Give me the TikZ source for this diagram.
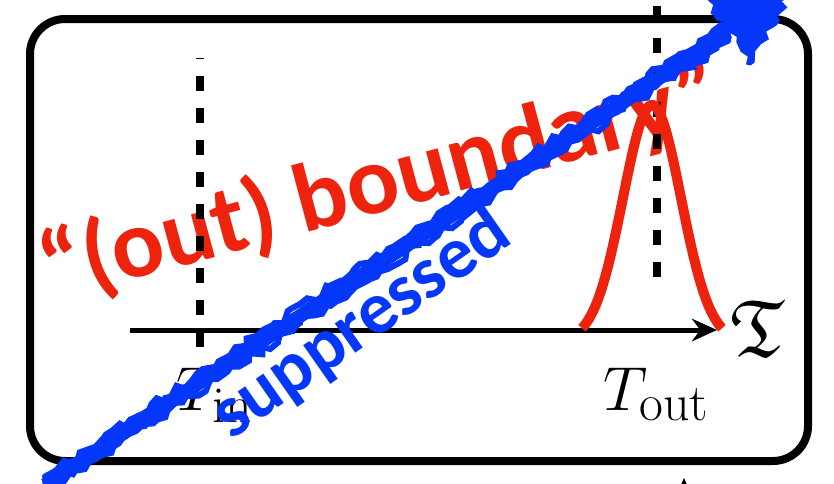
\documentclass[tikz,border=0pt]{standalone}
\usepackage{amssymb}
\usepackage{graphicx}
\usepackage{fontspec}
\usetikzlibrary{arrows.meta, calc, decorations.pathmorphing}
\newfontfamily\calfont{Carlito}
\definecolor{boundRed}{RGB}{237,35,13}
\definecolor{suppBlue}{RGB}{5,55,250}

\begin{document}
\begin{tikzpicture}[x=0.4pt, y=0.4pt,
    frame/.style={line width=3.2pt, rounded corners=14pt},
    marker/.style={line width=3.2pt, dash pattern=on 6pt off 6.8pt},
    axis/.style={line width=2pt, -{Stealth[length=10pt, width=9pt]}},
    bump/.style={line width=4pt, draw=boundRed},
    timelabel/.style={font=\fontsize{24.88}{30}\selectfont, inner sep=0pt},
    crayon/.style={draw=suppBlue, line width=2.4pt, line cap=round, decorate,
      decoration={random steps, segment length=3pt, amplitude=1.6pt}}
  ]
  \useasboundingbox (0,0) rectangle (834,483);
  \clip (0,0) rectangle (834,483);
  \pgfmathsetseed{7}

  % slanted red caption, behind the markers
  \node[rotate=15, anchor=base, text=boundRed, inner sep=0pt,
    font=\calfont\bfseries\fontsize{39}{41}\selectfont] (boundary) at (388,272) {“(out) boundary”};

  \draw[frame] (30,22) rectangle (808,464);

  \coordinate (inBot) at (200,136);
  \coordinate (inTop) at (200,425);
  \coordinate (outBot) at (657,206);
  \coordinate (outTop) at (657,478);
  \draw[marker] (inBot) -- (inTop);
  \draw[marker] (outBot) -- (outTop);

  \coordinate (axStart) at (130,153);
  \coordinate (axEnd) at (717,153);
  \draw[axis] (axStart) -- (axEnd);

  \draw[bump] plot[domain=-70:70, samples=80, smooth]
    ({652+\x}, {142+236*exp(-((\x)^2)/1682)});

  \node[timelabel, anchor=base west] (tin) at (176,73) {$T_{\mathrm{in}}$};
  \node[timelabel, anchor=base west] (tout) at (603,73) {$T_{\mathrm{out}}$};
  \node[inner sep=0pt] (frakT) at (758,154) {\scalebox{1.3}{\fontsize{24.88}{30}\selectfont$\mathfrak{T}$}};

  \coordinate (lowStart) at (684,-30);
  \coordinate (lowTip) at (684,5);
  \draw[axis] (lowStart) -- (lowTip);

  \node[rotate=35, anchor=base, text=suppBlue, inner sep=0pt,
    font=\calfont\bfseries\fontsize{29.5}{32}\selectfont] (supp) at (373,142) {suppressed};

  % crayon arrow striking it all out
  \coordinate (supStart) at (45,-2);
  \coordinate (supTip) at (795,495);
  \coordinate (headBase) at ($(supTip)!32pt!(supStart)$);
  \coordinate (headL) at ($(headBase)!16pt!90:(supTip)$);
  \coordinate (headR) at ($(headBase)!16pt!-90:(supTip)$);
  \draw[draw=suppBlue, line width=5.5pt] (supStart) -- (headBase);
  \foreach \off in {-3.4,-1.2,1.2,3.4}
    \draw[crayon] ([yshift=\off pt]supStart) -- ([yshift=\off pt]headBase);
  \fill[suppBlue, decorate, decoration={random steps, segment length=2.5pt, amplitude=2pt}]
    (headL) -- (supTip) -- (headR) -- cycle;
\end{tikzpicture}
\end{document}
